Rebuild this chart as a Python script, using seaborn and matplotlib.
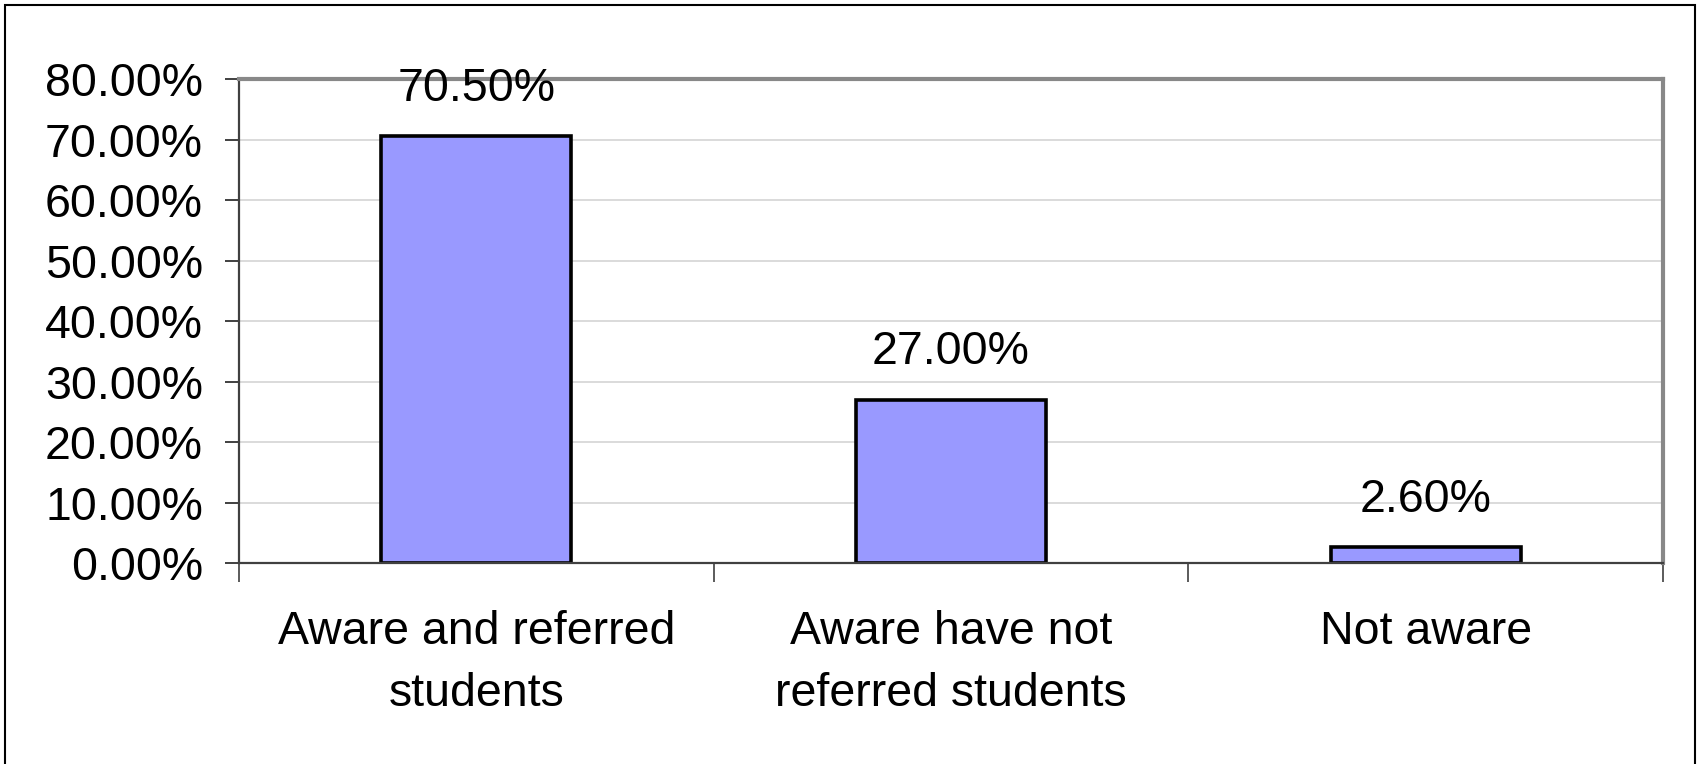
import matplotlib
matplotlib.use('Agg')
import matplotlib.pyplot as plt
import seaborn as sns
import pandas as pd
from matplotlib.patches import Rectangle
from matplotlib.ticker import FuncFormatter

# Chart data
categories = ['Aware and referred\nstudents', 'Aware have not\nreferred students', 'Not aware']
values = [70.5, 27.0, 2.6]
yticks = [0, 10, 20, 30, 40, 50, 60, 70, 80]

df = pd.DataFrame({'group': categories, 'pct': values})

sns.set_theme(style='white')
plt.rcParams['font.family'] = ['Liberation Sans', 'DejaVu Sans']

fsz = 33.5

fig = plt.figure(figsize=(17.01, 7.64), dpi=100)
ax = fig.add_axes([0.1405, 0.263, 0.8372, 0.6336])

sns.barplot(
    data=df,
    x='group',
    y='pct',
    color='#9999FF',
    saturation=1,
    edgecolor='black',
    linewidth=2.6,
    width=0.4,
    ax=ax,
)

ax.set_ylim(0, 80)
ax.set_xlim(-0.5, 2.5)
ax.set_yticks(yticks)
ax.yaxis.set_major_formatter(FuncFormatter(lambda v, p: '%.2f%%' % v))
ax.set_xlabel('')
ax.set_ylabel('')

# Gridlines behind the bars
ax.set_axisbelow(True)
ax.yaxis.grid(True, color='#d4d4d4', linewidth=1.2)
ax.xaxis.grid(False)

# Spines
for s in ['left', 'bottom']:
    ax.spines[s].set_color('#404040')
    ax.spines[s].set_linewidth(1.6)
for s in ['top', 'right']:
    ax.spines[s].set_color('#888888')
    ax.spines[s].set_linewidth(3)

# Ticks
ax.tick_params(axis='y', which='major', left=True, direction='out', length=10,
               width=1.4, color='#404040', pad=16, labelsize=fsz, labelcolor='black')
ax.tick_params(axis='x', which='major', bottom=False, pad=28, labelsize=fsz,
               labelcolor='black')
ax.set_xticks([-0.5, 0.5, 1.5, 2.5], minor=True)
ax.tick_params(axis='x', which='minor', bottom=True, direction='out', length=14,
               width=1.2, color='#404040')
for lbl in ax.get_xticklabels():
    lbl.set_linespacing(1.52)

# Value labels above bars
for i, v in enumerate(values):
    ax.annotate('%.2f%%' % v, (i, v), xytext=(0, 34), textcoords='offset points',
                ha='center', va='center', fontsize=fsz, color='black')

# Outer chart border
fig.patches.append(Rectangle((5 / 1701, -0.05), 1690 / 1701, 1.05 - 5 / 764,
                             transform=fig.transFigure, fill=False,
                             edgecolor='black', linewidth=1.5))

fig.savefig('out.png', dpi=100)
plt.close()
